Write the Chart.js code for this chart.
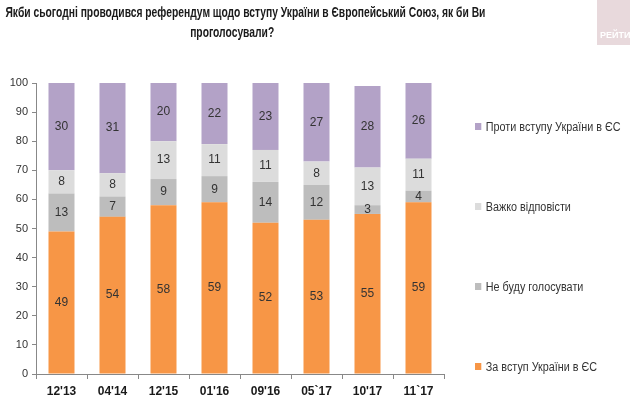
<!DOCTYPE html>
<html><head><meta charset="utf-8">
<script src="https://cdn.jsdelivr.net/npm/chart.js@4"></script>
<style>
html,body{margin:0;padding:0;background:#fff;}
#wrap{position:relative;width:630px;height:399px;overflow:hidden;font-family:"Liberation Sans",Arial,sans-serif;}
.tl{position:absolute;white-space:nowrap;font-weight:bold;font-size:14px;line-height:16px;color:#1a1a1a;}
#logo{position:absolute;left:597px;top:0;width:40px;height:45px;background:#e8d9dc;overflow:hidden;}
#logo span{position:absolute;left:3px;top:30px;color:#fff;font-weight:bold;font-size:9px;white-space:nowrap;}
.lg{position:absolute;left:475px;font-size:12px;color:#333;white-space:nowrap;line-height:14px;transform-origin:left center;}
.lg i{display:inline-block;width:7px;height:7px;margin-right:5px;vertical-align:1px;}
canvas{position:absolute;left:0;top:0;}
</style></head>
<body><div id="wrap">
<canvas id="c" width="630" height="399"></canvas>
<div class="tl" id="t1">Якби сьогодні проводився референдум щодо вступу України в Європейський Союз, як би Ви</div>
<div class="tl" id="t2">проголосували?</div>
<div id="logo"><span>РЕЙТИНГ</span></div>
<div id="legend"></div>
</div>
<script>
const categories = ["12'13","04'14","12'15","01'16","09'16","05`17","10'17","11`17"];
const seriesNames = ["За вступ України в ЄС","Не буду голосувати","Важко відповісти","Проти вступу України в ЄС"];
const forEU = [49,54,58,59,52,53,55,59];
const wontVote = [13,7,9,9,14,12,3,4];
const hardToSay = [8,8,13,11,11,8,13,11];
const againstEU = [30,31,20,22,23,27,28,26];
const colors = ["#F79646","#BDBDBD","#DCDCDC","#B3A2C7"];
const yTicks = [0,10,20,30,40,50,60,70,80,90,100];

const NARROW = '"Liberation Sans Narrow", "Liberation Sans", Arial, sans-serif';
const seriesData = [forEU, wontVote, hardToSay, againstEU];
const legendY = [367, 287, 207, 127];
const lg = document.getElementById('legend');
seriesNames.forEach((n,i)=>{
  const d=document.createElement('div');d.className='lg';d.style.top=(legendY[i]-7)+'px';
  d.innerHTML='<i style="background:'+colors[i]+'"></i>'+n;lg.appendChild(d);
  d.style.transform='scaleX(0.9)';
});
// condense title lines to match reference widths
const mc=document.createElement('canvas').getContext('2d');
mc.font='bold 14px "Liberation Sans", Arial, sans-serif';
const t1=document.getElementById('t1'), t2=document.getElementById('t2');
const w1=mc.measureText(t1.textContent).width, w2=mc.measureText(t2.textContent).width;
const sc=480/w1;
function place(el,w,cx,top){el.style.left=(cx-w/2)+'px';el.style.top=top+'px';el.style.transformOrigin='center center';el.style.transform='scaleX('+sc+')';}
place(t1,w1,245,4);
place(t2,w2,232,24);

const labelPlugin = {
  id:'vals',
  afterDatasetsDraw(chart){
    const ctx=chart.ctx;ctx.save();
    ctx.font='12px '+NARROW;ctx.fillStyle='#333';
    ctx.textAlign='center';ctx.textBaseline='middle';
    chart.data.datasets.forEach((ds,di)=>{
      const meta=chart.getDatasetMeta(di);
      meta.data.forEach((bar,i)=>{
        const top=Math.max(bar.y, chart.chartArea.top);
        ctx.fillText(String(ds.data[i]), bar.x, (top+bar.base)/2);
      });
    });
    ctx.restore();
  }
};

new Chart(document.getElementById('c'),{
  type:'bar',
  data:{labels:categories,datasets:seriesData.map((d,i)=>({label:seriesNames[i],data:d,backgroundColor:colors[i],borderWidth:0,barPercentage:0.51,categoryPercentage:1}))},
  options:{
    responsive:false,animation:false,
    layout:{padding:{left:0,right:186,top:83,bottom:0}},
    plugins:{legend:{display:false},tooltip:{enabled:false},title:{display:false}},
    scales:{
      x:{stacked:true,
        grid:{drawOnChartArea:false,drawTicks:true,tickLength:5,color:'#888',offset:true},
        border:{color:'#888'},
        ticks:{color:'#1a1a1a',font:{family:NARROW,size:12,weight:'bold'},padding:5},
        afterFit(s){s.height=25;}
      },
      y:{stacked:true,min:0,max:100,
        afterBuildTicks(s){s.ticks=yTicks.map(v=>({value:v}));},
        grid:{drawOnChartArea:false,drawTicks:true,tickLength:4,color:'#888'},
        border:{color:'#888'},
        ticks:{color:'#333',font:{family:'"Liberation Sans", Arial, sans-serif',size:11},padding:4},
        afterFit(s){s.width=36;}
      }
    }
  },
  plugins:[labelPlugin]
});
</script>
</body></html>
